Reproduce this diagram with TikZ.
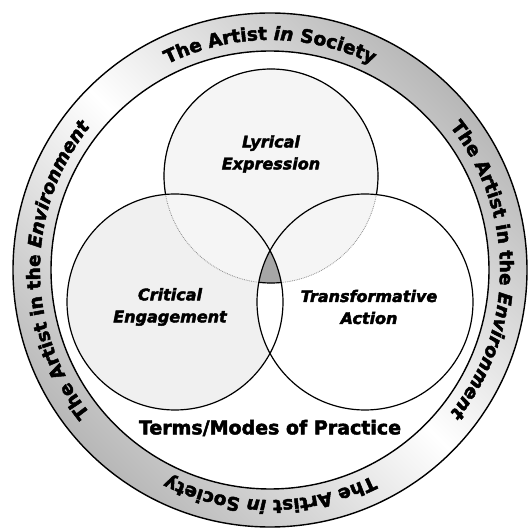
\documentclass[tikz,border=0pt]{standalone}
\usepackage{fontspec}
\setmainfont{DejaVu Sans}[BoldFeatures={FakeBold=2.5}, BoldItalicFeatures={FakeBold=2.5}]
\newcommand\ringf{\bfseries\upshape\fontsize{18.5}{22}\selectfont}
\newcommand\ringi{\bfseries\itshape\fontsize{18.5}{22}\selectfont}
\usetikzlibrary{decorations.text}
\begin{document}
\begin{tikzpicture}[x=1pt,y=1pt,
  venn/.style={line width=1.2pt},
  ringline/.style={line width=1.4pt},
  lab/.style={font=\bfseries\itshape\fontsize{16}{22}\selectfont, align=center},
  ringtext/.style={decorate, decoration={text along path, text align=center, text={#1}}}]
\useasboundingbox (0,0) rectangle (528,528);
\coordinate (c) at (270,258);
\coordinate (t) at (271,352);
\coordinate (l) at (175,226);
\coordinate (r) at (365,226);
% ring
\shade[even odd rule, top color=black!28, bottom color=black!28, middle color=white, shading angle=-45]
  (c) circle[radius=257] (c) circle[radius=219];
\draw[ringline] (c) circle[radius=257];
\draw[ringline] (c) circle[radius=219];
\path[shift={(270,258)}, ringtext={|\ringf|The Artist |\ringi|in |\ringf|Society}]
  (150:230) arc[start angle=150, end angle=30, radius=230];
\path[shift={(270,258)}, ringtext={|\ringf|The Artist in the |\ringi|Environment}]
  (60:230) arc[start angle=60, end angle=-60, radius=230];
\path[shift={(270,258)}, ringtext={|\ringf|The Artist |\ringi|in |\ringf|Society}]
  (-30:230) arc[start angle=-30, end angle=-150, radius=230];
\path[shift={(270,258)}, ringtext={|\ringf|The Artist in the |\ringi|Environment}]
  (240:230) arc[start angle=240, end angle=120, radius=230];
% venn fills
\fill[black!6] (l) circle[radius=108];
\begin{scope}
  \clip (r) circle[radius=108];
  \fill[white] (l) circle[radius=108];
\end{scope}
\fill[black!4] (t) circle[radius=107];
\begin{scope}
  \clip (l) circle[radius=108];
  \clip (r) circle[radius=108];
  \fill[black!35] (t) circle[radius=107];
\end{scope}
% venn lines
\draw[black!45, densely dotted, line width=0.8pt] (t) circle[radius=107];
\begin{scope}[even odd rule]
  \clip (0,0) rectangle (528,528) (l) circle[radius=108] (r) circle[radius=108];
  \draw[venn] (t) circle[radius=107];
\end{scope}
\draw[venn] (l) circle[radius=108];
\draw[venn] (r) circle[radius=108];
% labels
\node[lab] (lyr) at (271,374) {Lyrical\\Expression};
\node[lab] (cri) at (170,221) {Critical\\Engagement};
\node[lab] (tra) at (369,221) {Transformative\\Action};
\node[font=\bfseries\fontsize{19}{22}\selectfont] (terms) at (270,100) {Terms/Modes of Practice};
\end{tikzpicture}
\end{document}
